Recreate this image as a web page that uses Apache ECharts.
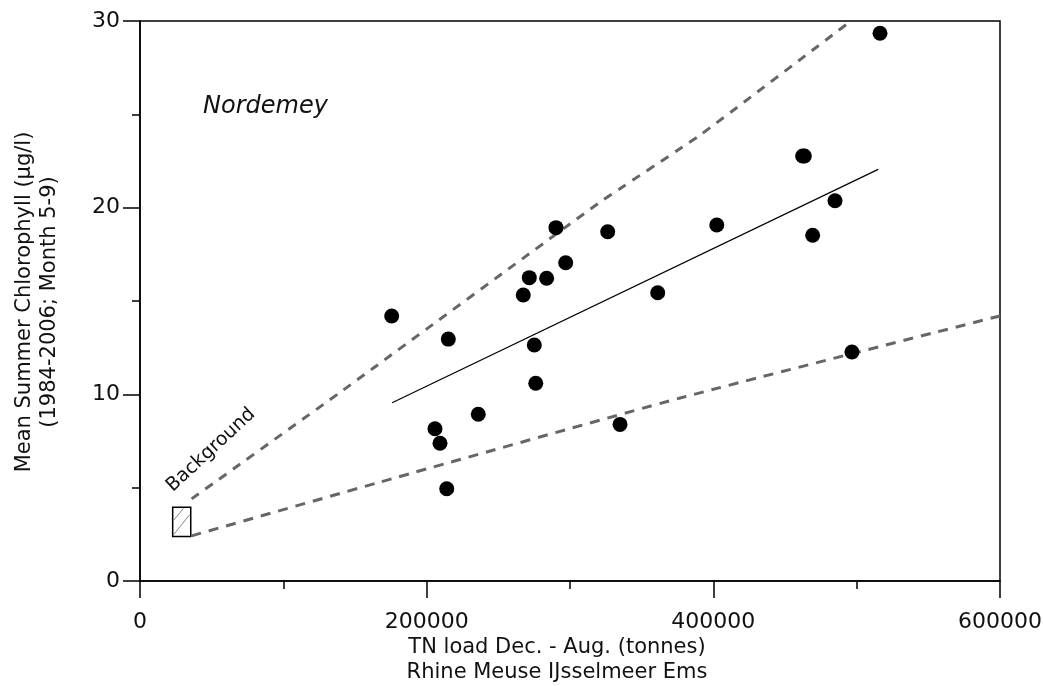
<!DOCTYPE html>
<html>
<head>
<meta charset="utf-8">
<script src="https://cdn.jsdelivr.net/npm/echarts@6/dist/echarts.min.js"></script>
<style>html,body{margin:0;padding:0;background:#fff}#c{width:1043px;height:686px}</style>
</head>
<body>
<div id="c"></div>
<script>
// TN load (tonnes) vs mean summer chlorophyll (µg/l)
const loadX = [175600,215100,205800,209300,214000,236000,267400,271600,283700,290200,297000,275100,276100,326300,361200,334900,516300,462300,463500,484900,402400,469300,496700];
const chlY  = [14.2,12.96,8.16,7.38,4.94,8.93,15.32,16.25,16.22,18.93,17.05,12.64,10.59,18.71,15.44,8.39,29.34,22.77,22.77,20.37,19.07,18.52,12.27];
const regression = [[175900, 9.55], [515000, 22.05]];
const upperBound = [[36000, 4.4], [139500, 10.1], [321000, 20.3], [391000, 23.9], [496000, 30.0]];
const lowerBound = [[36000, 2.42], [167500, 5.3], [376800, 9.8], [600000, 14.2]];
const backgroundBox = [[22800, 35400, 2.38, 3.95]];
const xTicks = [0, 200000, 400000, 600000];
const yTicks = [0, 10, 20, 30];

const points = loadX.map((x, i) => [x, chlY[i]]);
const FONT = 'DejaVu Sans';

const chart = echarts.init(document.getElementById('c'));
chart.setOption({
  animation: false,
  backgroundColor: '#fff',
  grid: { left: 140, right: 43, top: 21, bottom: 105, show: true, borderColor: '#000', borderWidth: 1.5,
          containLabel: false, outerBoundsMode: 'none' },
  xAxis: {
    type: 'value', min: xTicks[0], max: xTicks[xTicks.length - 1], interval: 200000,
    axisLine: { lineStyle: { color: '#000', width: 1.5 } },
    axisTick: { show: true, length: 17, lineStyle: { color: '#000', width: 1.5 } },
    minorTick: { show: true, splitNumber: 2, length: 8, lineStyle: { color: '#000', width: 1.5 } },
    splitLine: { show: false },
    axisLabel: { margin: 30, fontFamily: FONT, fontSize: 22, color: '#111', formatter: v => String(v) }
  },
  yAxis: {
    type: 'value', min: yTicks[0], max: yTicks[yTicks.length - 1], interval: 10,
    axisLine: { show: true, lineStyle: { color: '#000', width: 1.5 } },
    axisTick: { show: true, length: 17, lineStyle: { color: '#000', width: 1.5 } },
    minorTick: { show: true, splitNumber: 2, length: 8, lineStyle: { color: '#000', width: 1.5 } },
    splitLine: { show: false },
    axisLabel: { margin: 20, fontFamily: FONT, fontSize: 22, color: '#111' }
  },
  graphic: [
    { type: 'text', x: 37, y: 302, rotation: Math.PI / 2, style: {
      text: 'Mean Summer Chlorophyll (µg/l)\n(1984-2006; Month 5-9)', align: 'center', verticalAlign: 'middle',
      font: '21px "DejaVu Sans"', fill: '#111', lineHeight: 25 } },
    { type: 'text', x: 557, y: 660, style: {
      text: 'TN load Dec. - Aug. (tonnes)\nRhine Meuse IJsselmeer Ems', align: 'center', verticalAlign: 'middle',
      font: '21px "DejaVu Sans"', fill: '#111', lineHeight: 25 } },
    { type: 'text', x: 203, y: 107, style: {
      text: 'Nordemey', align: 'left', verticalAlign: 'middle',
      font: 'italic 24px "DejaVu Sans"', fill: '#111' } },
    { type: 'text', x: 211, y: 450, rotation: Math.PI / 4.2, style: {
      text: 'Background', align: 'center', verticalAlign: 'middle',
      font: '19px "DejaVu Sans"', fill: '#111' } }
  ],
  series: [
    { type: 'line', data: upperBound, showSymbol: false, smooth: 0.1, z: 2,
      lineStyle: { color: '#666', width: 3, type: [9, 8] } },
    { type: 'line', data: lowerBound, showSymbol: false, smooth: 0.2, z: 2,
      lineStyle: { color: '#666', width: 3, type: [10, 8] } },
    { type: 'line', data: regression, showSymbol: false, z: 3,
      lineStyle: { color: '#000', width: 1.2 } },
    { type: 'scatter', data: points, symbol: 'circle', symbolSize: 15, z: 4,
      itemStyle: { color: '#000', opacity: 1 } },
    { type: 'custom', data: backgroundBox, z: 5,
      renderItem: function (params, api) {
        const tl = api.coord([api.value(0), api.value(3)]);
        const br = api.coord([api.value(1), api.value(2)]);
        const w = br[0] - tl[0], h = br[1] - tl[1];
        return { type: 'group', children: [
          { type: 'rect', shape: { x: tl[0], y: tl[1], width: w, height: h }, style: { fill: '#fff', stroke: '#000', lineWidth: 1.5 } },
          { type: 'line', shape: { x1: tl[0] + 1, y1: tl[1] + h * 0.45, x2: tl[0] + w * 0.6, y2: tl[1] + 1 }, style: { stroke: '#888', lineWidth: 1 } },
          { type: 'line', shape: { x1: tl[0] + 1, y1: br[1] - 2, x2: br[0] - 1, y2: tl[1] + h * 0.25 }, style: { stroke: '#888', lineWidth: 1 } }
        ] };
      }
    }
  ]
});
</script>
</body>
</html>
